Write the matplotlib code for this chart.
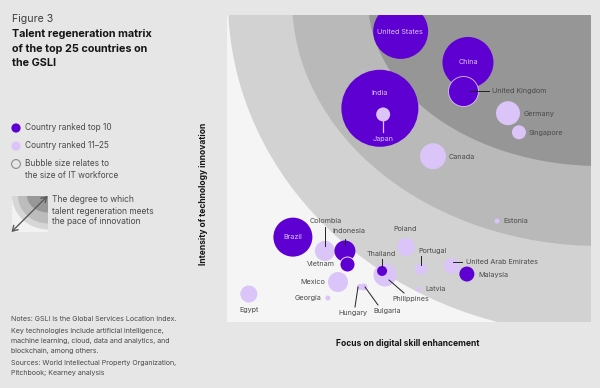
import matplotlib
matplotlib.use("Agg")
import matplotlib.pyplot as plt
from matplotlib.patches import Ellipse, Rectangle, Circle

plt.rcParams['font.family'] = ['Inter', 'DejaVu Sans']

countries = ["United States", "China", "United Kingdom", "India", "Japan", "Germany", "Singapore",
             "Canada", "Brazil", "Colombia", "Indonesia", "Vietnam", "Mexico", "Egypt", "Georgia",
             "Hungary", "Bulgaria", "Philippines", "Thailand", "Poland", "Portugal",
             "United Arab Emirates", "Malaysia", "Latvia", "Estonia"]
skill = [47.7, 66.2, 64.8, 42.0, 42.9, 77.2, 80.2, 56.6, 18.1, 26.9, 32.4, 33.0, 30.5, 6.0, 27.7,
         36.5, 37.6, 43.4, 42.6, 49.2, 53.3, 61.8, 65.9, 52.7, 74.2]
innovation = [94.5, 84.4, 75.0, 69.5, 67.5, 67.9, 61.7, 53.9, 27.6, 23.1, 23.1, 18.8, 13.0, 9.1, 7.8,
              11.4, 11.4, 15.3, 16.6, 24.4, 17.2, 18.2, 15.6, 10.7, 32.8]
workforce = [55, 51, 30, 77, 14, 24, 14, 26, 39, 20, 21, 15, 20, 17, 5, 6, 7, 23, 10, 18, 12, 16, 15, 5, 5]
top10 = [1, 1, 1, 1, 0, 0, 0, 0, 1, 0, 1, 1, 0, 0, 0, 0, 0, 0, 1, 0, 0, 0, 1, 0, 0]

BG = "#e6e6e6"; PURPLE = "#5f00d2"; LILAC = "#dac4f8"; TXT = "#4a4a4a"; DARK = "#151515"
W, H = 600, 388
fig = plt.figure(figsize=(6, 3.88), dpi=100, facecolor=BG)

# plot rectangle in pixels
L, R, T, B = 227, 591, 14.5, 322
ax = fig.add_axes([L / W, 1 - B / H, (R - L) / W, (B - T) / H])
ax.set_xlim(0, 100)
ax.set_ylim(0, 100)
ax.axis("off")
sx = 100 / (R - L); sy = 100 / (B - T)
cx = (600 - L) * sx; cy = (T - 0) * sy + 100
ax.add_patch(Rectangle((0, 0), 100, 100, fc="#f5f5f5", ec="none", zorder=0))
for a, b, c in [(372, 335, "#d2d2d2"), (308, 246, "#b9b9b9"), (232, 166, "#969696")]:
    ax.add_patch(Ellipse((cx, cy), 2 * a * sx, 2 * b * sy, fc=c, ec="none", zorder=1))

for i in range(len(countries)):
    col = PURPLE if top10[i] else LILAC
    ec = LILAC if countries[i] == "United Kingdom" else ("white" if countries[i] == "Vietnam" else "none")
    ax.scatter(skill[i], innovation[i], s=(workforce[i] * 0.72) ** 2, color=col, edgecolors=ec,
               linewidths=0.6, zorder=3 + (1 if countries[i] in ("United Kingdom", "Japan", "Vietnam", "Thailand") else 0))

# overlay in pixel layout units
ov = fig.add_axes([0, 0, 1, 1])
ov.set_xlim(0, W); ov.set_ylim(H, 0); ov.axis("off"); ov.patch.set_alpha(0)

labels = {  # text, x, y, ha, colour
    "United States": (400, 32, "center", LILAC), "China": (468, 62, "center", LILAC),
    "India": (380, 93, "center", LILAC), "Japan": (383, 139, "center", LILAC),
    "Brazil": (293, 237, "center", LILAC), "United Kingdom": (492, 91, "left", TXT),
    "Germany": (524, 114, "left", TXT), "Singapore": (529, 133, "left", TXT),
    "Canada": (449, 157, "left", TXT), "Colombia": (325.5, 221, "center", TXT),
    "Indonesia": (348.5, 231, "center", TXT), "Vietnam": (321, 264, "center", TXT),
    "Mexico": (313, 282, "center", TXT), "Georgia": (308.5, 298, "center", TXT),
    "Egypt": (249, 310, "center", TXT), "Hungary": (352.5, 313, "center", TXT),
    "Bulgaria": (387.5, 310.5, "center", TXT), "Thailand": (381, 254, "center", TXT),
    "Philippines": (411, 299, "center", TXT), "Poland": (405, 229, "center", TXT),
    "Portugal": (433, 250.5, "center", TXT), "United Arab Emirates": (466, 262, "left", TXT),
    "Malaysia": (478, 275, "left", TXT), "Latvia": (425, 289, "left", TXT),
    "Estonia": (503, 221, "left", TXT),
}
for name, (x, y, ha, c) in labels.items():
    ov.text(x, y, name, fontsize=5.2, color=c, ha=ha, va="center")

leaders = [((325, 227), (325, 246)), ((345, 239), (345, 245)), ((382, 259), (382, 267)),
           ((389, 280), (404, 293)), ((358, 287), (355, 307)), ((365, 287), (378, 305)),
           ((421, 256), (421, 265)), ((453, 262), (462, 262)), ((470, 91), (489, 91))]
for (x0, y0), (x1, y1) in leaders:
    ov.plot([x0, x1], [y0, y1], color="#222222", lw=0.7)
ov.plot([383, 383], [115, 132], color=LILAC, lw=0.9)

# Title block
ov.text(11.5, 19.5, "Figure 3", fontsize=7.6, color="#3c3c3c", va="center")
for y, s in zip([34, 48.5, 63], ["Talent regeneration matrix", "of the top 25 countries on", "the GSLI"]):
    ov.text(11.5, y, s, fontsize=7.8, fontweight="bold", color=DARK, va="center")

# Legend
ov.add_patch(Circle((16, 128), 4.6, fc=PURPLE, ec="none"))
ov.add_patch(Circle((16, 146), 4.6, fc=LILAC, ec="none"))
ov.add_patch(Circle((16, 164), 4.4, fc="none", ec="#8c8c8c", lw=0.8))
for y, s in [(127.5, "Country ranked top 10"), (145.5, "Country ranked 11–25"),
             (164, "Bubble size relates to"), (175, "the size of IT workforce")]:
    ov.text(25, y, s, fontsize=6.0, color=TXT, va="center")

# Mini key
clip = Rectangle((11.5, 195.5), 36.5, 36.5, transform=ov.transData, fc="#f2f2f2", ec="none")
ov.add_patch(clip)
for a, b, c in [(36, 34, "#d6d6d6"), (30, 28, "#bcbcbc"), (21, 17, "#989898")]:
    e = Ellipse((48, 195.5), 2 * a, 2 * b, fc=c, ec="none")
    ov.add_patch(e)
    e.set_clip_path(clip)
ov.annotate("", xy=(11.5, 232), xytext=(47.5, 196),
            arrowprops=dict(arrowstyle="<->,head_length=0.45,head_width=0.28", color="#5a5a5a", lw=1.0,
                            mutation_scale=8, shrinkA=0, shrinkB=0))
for y, s in zip([200, 211, 222], ["The degree to which", "talent regeneration meets", "the pace of innovation"]):
    ov.text(52, y, s, fontsize=6.1, color=TXT, va="center")

# Notes
notes = [(319, "Notes: GSLI is the Global Services Location Index."),
         (331, "Key technologies include artificial intelligence,"),
         (341, "machine learning, cloud, data and analytics, and"),
         (351, "blockchain, among others."),
         (363, "Sources: World Intellectual Property Organization,"),
         (373, "Pitchbook; Kearney analysis")]
for y, s in notes:
    ov.text(11, y, s, fontsize=5.1, color=TXT, va="center")

ov.text(408, 344, "Focus on digital skill enhancement", fontsize=6.15, fontweight="bold", color=DARK,
        ha="center", va="center")
ov.text(204, 193.5, "Intensity of technology innovation", fontsize=6.1, fontweight="bold", color=DARK,
        ha="center", va="center", rotation=90)

fig.savefig("out.png", dpi=100, facecolor=BG)
